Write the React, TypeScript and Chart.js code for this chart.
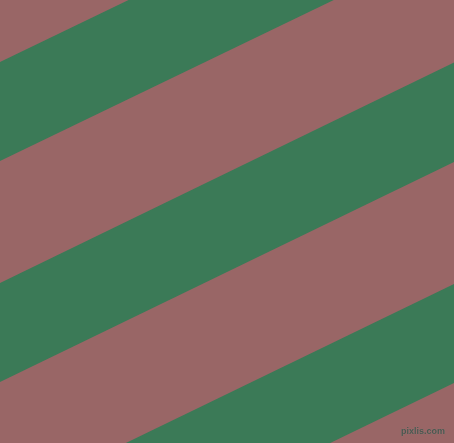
import React, { useEffect, useRef } from "react";
import { Chart, registerables } from "chart.js";

Chart.register(...registerables);

// x positions of the left and right edges of the picture
const xEnds = [0, 454];
// y values (from the top) of each stripe boundary at the left and right edges
const band1Upper = [62, -157];
const band1Lower = [161, -58];
const band2Upper = [283, 62.5];
const band2Lower = [382, 162];
const band3Upper = [504, 284];
const band3Lower = [603, 383];

const greenColor = "#3B7A57";
const brownColor = "#996666";
const watermark = "pixlis.com";

const toPoints = (ys: number[]) => xEnds.map((x, i) => ({ x, y: ys[i] }));

export default function App() {
  const ref = useRef<HTMLCanvasElement | null>(null);

  useEffect(() => {
    if (!ref.current) return;
    const bands = [
      [band1Upper, band1Lower],
      [band2Upper, band2Lower],
      [band3Upper, band3Lower],
    ];
    const datasets: any[] = [];
    bands.forEach(([u, l]) => {
      datasets.push({
        data: toPoints(u),
        borderWidth: 0,
        pointRadius: 0,
        fill: false,
      });
      datasets.push({
        data: toPoints(l),
        borderWidth: 0,
        pointRadius: 0,
        fill: "-1",
        backgroundColor: greenColor,
      });
    });
    const chart = new Chart(ref.current, {
      type: "line",
      data: { datasets },
      options: {
        animation: false,
        responsive: false,
        events: [],
        layout: { padding: 0 },
        plugins: {
          legend: { display: false },
          tooltip: { enabled: false },
          title: { display: false },
        },
        scales: {
          x: { type: "linear", min: 0, max: 454, display: false },
          y: { type: "linear", min: 0, max: 443, reverse: true, display: false },
        },
      },
    });
    return () => chart.destroy();
  }, []);

  return (
    <div
      style={{
        position: "fixed",
        left: 0,
        top: 0,
        width: 454,
        height: 443,
        background: brownColor,
        overflow: "hidden",
      }}
    >
      <canvas ref={ref} width={454} height={443} style={{ display: "block", width: 454, height: 443 }} />
      <div
        style={{
          position: "absolute",
          right: 9,
          top: 427,
          fontFamily: "'Liberation Sans', sans-serif",
          fontWeight: "bold",
          fontSize: 9,
          lineHeight: "9px",
          color: "#4c574f",
          textShadow: "0 0 1px rgba(150,150,150,0.6)",
          whiteSpace: "nowrap",
        }}
      >
        {watermark}
      </div>
    </div>
  );
}
